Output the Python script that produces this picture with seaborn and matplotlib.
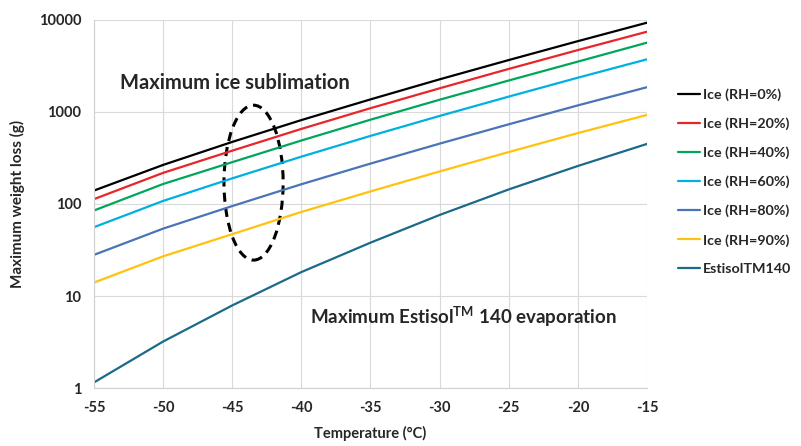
import matplotlib
matplotlib.use("Agg")
import matplotlib.pyplot as plt
import matplotlib.ticker as mticker
from matplotlib.patches import Ellipse
import numpy as np
import pandas as pd
import seaborn as sns

# values
temps = [-55, -50, -45, -40, -35, -30, -25, -20, -15]
ice_rh0 = [140, 266, 473, 817, 1371, 2265, 3670, 5890, 9350]
ice_rh20 = [113, 218, 380, 655, 1100, 1810, 2940, 4710, 7460]
ice_rh40 = [85, 165, 285, 490, 825, 1360, 2200, 3530, 5670]
ice_rh60 = [56, 108, 190, 327, 550, 906, 1470, 2360, 3740]
ice_rh80 = [28, 54, 95, 164, 275, 453, 735, 1180, 1860]
ice_rh90 = [14, 27, 47, 82, 137, 226, 367, 590, 930]
estisol = [1.15, 3.2, 7.9, 18.2, 38, 76, 144, 259, 450]

names = ["Ice (RH=0%)", "Ice (RH=20%)", "Ice (RH=40%)", "Ice (RH=60%)",
         "Ice (RH=80%)", "Ice (RH=90%)", "EstisolTM140"]
series = [ice_rh0, ice_rh20, ice_rh40, ice_rh60, ice_rh80, ice_rh90, estisol]
colors = ["#000000", "#E8262A", "#00A65A", "#00B0E0", "#4A74B8", "#FFC20E", "#1B6A8A"]
x_ticks = [-55, -50, -45, -40, -35, -30, -25, -20, -15]
y_ticks = [1, 10, 100, 1000, 10000]

rows = []
for name, vals in zip(names, series):
    for t, v in zip(temps, vals):
        rows.append({"T": t, "loss": v, "series": name})
df = pd.DataFrame(rows)

sns.set_style("white")
plt.rcParams["font.family"] = ["Lato", "DejaVu Sans"]
plt.rcParams["font.weight"] = "bold"
plt.rcParams["axes.unicode_minus"] = False
plt.rcParams["mathtext.fontset"] = "custom"
plt.rcParams["mathtext.rm"] = "Lato:bold"
plt.rcParams["mathtext.bf"] = "Lato:bold"

fig = plt.figure(figsize=(8.01, 4.46), dpi=100)
ax = fig.add_axes([94 / 801, 1 - 388 / 446, (647 - 94) / 801, (388 - 20) / 446])

sns.lineplot(data=df, x="T", y="loss", hue="series", hue_order=names,
             palette=dict(zip(names, colors)), linewidth=1.6, ax=ax)

ax.set_yscale("log")
ax.set_xlim(-55, -15)
ax.set_ylim(1, 10000)
ax.set_xticks(x_ticks)
ax.set_yticks(y_ticks)
ax.yaxis.set_major_formatter(mticker.FuncFormatter(lambda v, p: "%d" % v))
ax.yaxis.set_minor_locator(mticker.NullLocator())
ax.tick_params(length=0, labelsize=10.5, pad=9)
for lab in ax.get_xticklabels() + ax.get_yticklabels():
    lab.set_fontweight("bold")
ax.grid(True, color="#d9d9d9", linewidth=0.8)
for s in ["top", "right"]:
    ax.spines[s].set_visible(False)
for s in ["left", "bottom"]:
    ax.spines[s].set_color("#d0d0d0")

ax.set_xlabel("Temperature (°C)", fontsize=10.5, fontweight="bold", labelpad=8)
ax.set_ylabel("Maximum weight loss (g)", fontsize=11, fontweight="bold", labelpad=10)

ax.text(120, 446 - 83, "Maximum ice sublimation", transform=None, fontsize=14.5,
        fontweight="bold", va="center")
ax.text(310, 446 - 317, r"Maximum Estisol$^{\mathrm{TM}}$ 140 evaporation",
        transform=None, fontsize=13.5, fontweight="bold", va="center")

ell = Ellipse((0.2885, 0.558), 0.107, 0.421, transform=ax.transAxes, fill=False,
              edgecolor="black", linestyle=(0, (3, 2)), linewidth=2.2)
ax.add_patch(ell)

leg = ax.legend(loc="upper left", bbox_to_anchor=(1.045, 0.83), frameon=False,
                fontsize=10.3, handlelength=1.6, handletextpad=0.2,
                labelspacing=1.15, borderaxespad=0)
for line in leg.get_lines():
    line.set_linewidth(1.6)

fig.savefig("out.png", dpi=100)
